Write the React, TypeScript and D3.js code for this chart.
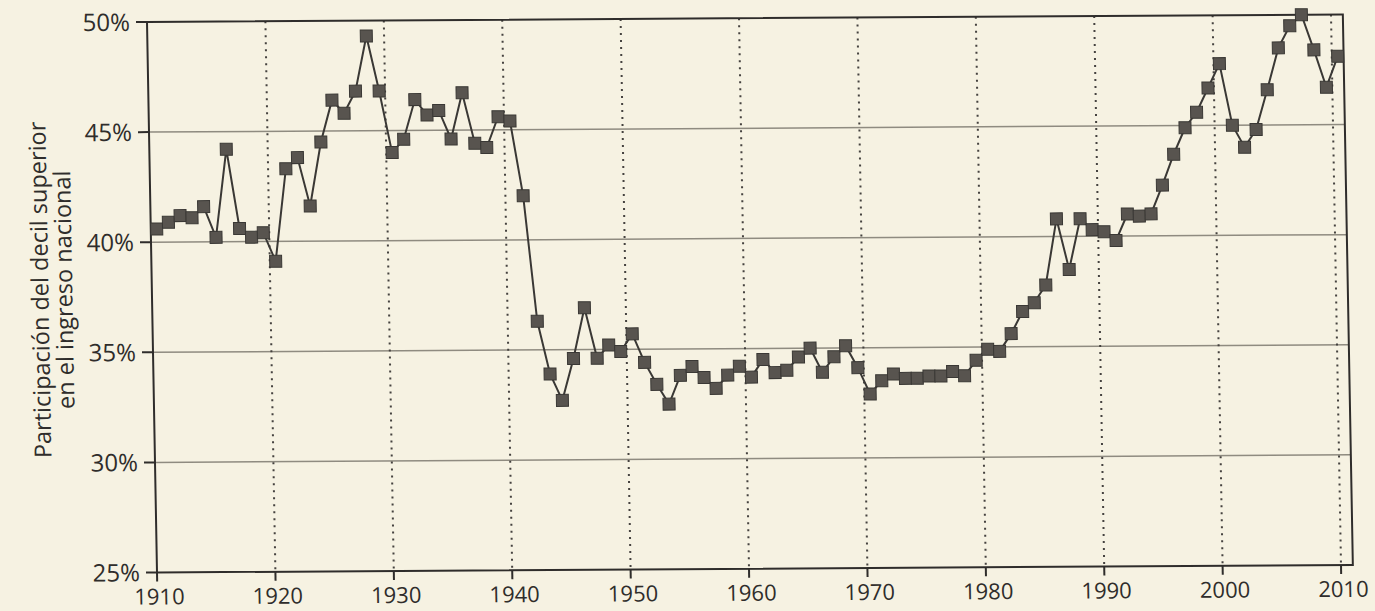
import { useEffect, useRef } from 'react';
import * as d3 from 'd3';

// Top decile share of national income, United States, 1910-2010 (values in %)
const firstYear = 1910;
const shares = [
  40.6, 40.9, 41.2, 41.1, 41.6, 40.2, 44.2, 40.6, 40.2, 40.4,
  39.1, 43.3, 43.8, 41.6, 44.5, 46.4, 45.8, 46.8, 49.3, 46.8,
  44.0, 44.6, 46.4, 45.7, 45.9, 44.6, 46.7, 44.4, 44.2, 45.6,
  45.4, 42.0, 36.3, 33.9, 32.7, 34.6, 36.9, 34.6, 35.2, 34.9,
  35.7, 34.4, 33.4, 32.5, 33.8, 34.2, 33.7, 33.2, 33.8, 34.2,
  33.7, 34.5, 33.9, 34.0, 34.6, 35.0, 33.9, 34.6, 35.1, 34.1,
  32.9, 33.5, 33.8, 33.6, 33.6, 33.7, 33.7, 33.9, 33.7, 34.4,
  34.9, 34.8, 35.6, 36.6, 37.0, 37.8, 40.8, 38.5, 40.8, 40.3,
  40.2, 39.8, 41.0, 40.9, 41.0, 42.3, 43.7, 44.9, 45.6, 46.7,
  47.8, 45.0, 44.0, 44.8, 46.6, 48.5, 49.5, 50.0, 48.4, 46.7,
  48.1,
];
const xTicks = [1910, 1920, 1930, 1940, 1950, 1960, 1970, 1980, 1990, 2000, 2010];
const yTicks = [25, 30, 35, 40, 45, 50];
const yLabelLines = ['Participación del decil superior', 'en el ingreso nacional'];

export default function App() {
  const ref = useRef<SVGSVGElement>(null);

  useEffect(() => {
    const svg = d3.select(ref.current);
    svg.selectAll('*').remove();

    const width = 1375;
    const height = 611;
    const innerH = 550.5;

    svg.attr('width', width).attr('height', height);

    svg.append('rect').attr('width', width).attr('height', height).attr('fill', '#f6f2e2');

    const x = d3.scaleLinear().domain([1910, 2010]).range([0, 1184]);
    const y = d3.scaleLinear().domain([25, 50]).range([innerH, 0]);

    // the scanned page is slightly skewed
    const g = svg.append('g').attr('transform', 'matrix(1,-0.00633,0.01817,1,147,22)');

    const font = "'Open Sans', sans-serif";
    const ink = '#2f2d2b';

    // horizontal gridlines
    g.selectAll('line.hgrid')
      .data(yTicks.filter((t) => t > 25 && t < 50))
      .join('line')
      .attr('x1', 0)
      .attr('x2', x(2011))
      .attr('y1', (d) => y(d))
      .attr('y2', (d) => y(d))
      .attr('stroke', '#8f8b80')
      .attr('stroke-width', 1.5);

    // vertical dotted gridlines
    g.selectAll('line.vgrid')
      .data(xTicks.slice(1))
      .join('line')
      .attr('x1', (d) => x(d))
      .attr('x2', (d) => x(d))
      .attr('y1', 0)
      .attr('y2', innerH)
      .attr('stroke', '#45423f')
      .attr('stroke-width', 2)
      .attr('stroke-dasharray', '2 5');

    // frame
    g.append('rect')
      .attr('x', 0)
      .attr('y', 0)
      .attr('width', x(2011))
      .attr('height', innerH)
      .attr('fill', 'none')
      .attr('stroke', ink)
      .attr('stroke-width', 2);

    // y axis ticks + labels
    g.selectAll('line.ytick')
      .data(yTicks)
      .join('line')
      .attr('x1', -11)
      .attr('x2', 0)
      .attr('y1', (d) => y(d))
      .attr('y2', (d) => y(d))
      .attr('stroke', ink)
      .attr('stroke-width', 2);

    g.selectAll('text.ylab')
      .data(yTicks)
      .join('text')
      .attr('x', -17)
      .attr('y', (d) => y(d))
      .attr('dy', '0.36em')
      .attr('text-anchor', 'end')
      .attr('font-family', font)
      .attr('font-size', 24)
      .attr('fill', ink)
      .text((d) => `${d}%`);

    // x axis ticks + labels
    g.selectAll('line.xtick')
      .data(xTicks)
      .join('line')
      .attr('x1', (d) => x(d))
      .attr('x2', (d) => x(d))
      .attr('y1', innerH)
      .attr('y2', innerH + 9)
      .attr('stroke', ink)
      .attr('stroke-width', 2);

    g.selectAll('text.xlab')
      .data(xTicks)
      .join('text')
      .attr('x', (d) => x(d) + 2)
      .attr('y', innerH + 24)
      .attr('dy', '0.36em')
      .attr('text-anchor', 'middle')
      .attr('font-family', font)
      .attr('font-size', 22)
      .attr('fill', ink)
      .text((d) => d);

    // y axis title
    const title = g
      .append('text')
      .attr('transform', `translate(-112,${innerH / 2 - 8}) rotate(-90)`)
      .attr('text-anchor', 'middle')
      .attr('font-family', font)
      .attr('font-size', 23.5)
      .attr('fill', ink);
    yLabelLines.forEach((line, i) => {
      title
        .append('tspan')
        .attr('x', 0)
        .attr('dy', i === 0 ? '0.36em' : '1.02em')
        .text(line);
    });

    // data: points sit at mid-year
    const data = shares.map((v, i) => ({ year: firstYear + i, v }));
    const px = (d: { year: number }) => x(d.year + 0.5);

    g.append('path')
      .datum(data)
      .attr('fill', 'none')
      .attr('stroke', '#3a3835')
      .attr('stroke-width', 2)
      .attr(
        'd',
        d3
          .line<{ year: number; v: number }>()
          .x(px)
          .y((d) => y(d.v))
      );

    const s = 12;
    g.selectAll('rect.pt')
      .data(data)
      .join('rect')
      .attr('x', (d) => px(d) - s / 2)
      .attr('y', (d) => y(d.v) - s / 2)
      .attr('width', s)
      .attr('height', s)
      .attr('fill', '#58544f')
      .attr('stroke', '#3a3835')
      .attr('stroke-width', 1);
  }, []);

  return <svg ref={ref} style={{ position: 'absolute', left: 0, top: 0 }}></svg>;
}
